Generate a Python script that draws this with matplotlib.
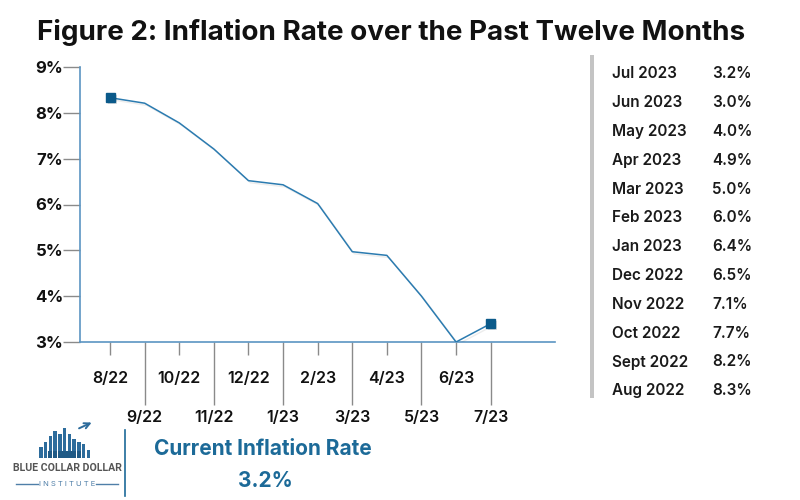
import matplotlib.pyplot as plt
import matplotlib.patheffects as pe
from matplotlib.patches import Rectangle
from matplotlib.lines import Line2D

plt.rcParams['font.family'] = ['Inter', 'DejaVu Sans']

# data
months = ['8/22', '9/22', '10/22', '11/22', '12/22', '1/23',
          '2/23', '3/23', '4/23', '5/23', '6/23', '7/23']
rates = [8.33, 8.21, 7.78, 7.21, 6.52, 6.43, 6.02, 4.97, 4.89, 4.0, 3.0, 3.4]
ytick_vals = [3, 4, 5, 6, 7, 8, 9]
ytick_labels = ['3%', '4%', '5%', '6%', '7%', '8%', '9%']

table_months = ['Jul 2023', 'Jun 2023', 'May 2023', 'Apr 2023', 'Mar 2023', 'Feb 2023',
                'Jan 2023', 'Dec 2022', 'Nov 2022', 'Oct 2022', 'Sept 2022', 'Aug 2022']
table_rates = ['3.2%', '3.0%', '4.0%', '4.9%', '5.0%', '6.0%',
               '6.4%', '6.5%', '7.1%', '7.7%', '8.2%', '8.3%']
current_rate = '3.2%'

blue = '#1c6a98'
line_blue = '#2b7bb0'
W, H = 800, 500

fig = plt.figure(figsize=(8, 5), dpi=100)
fig.patch.set_facecolor('white')

# axes in pixel coords: left 80, right 555, top 67, bottom 342
ax = fig.add_axes([80 / W, 1 - 342 / H, (555 - 80) / W, (342 - 67) / H])
x = list(range(len(months)))
ax.plot(x, rates, color=line_blue, lw=1.1, zorder=3,
        path_effects=[pe.SimpleLineShadow(offset=(1.5, -1.5), alpha=0.07), pe.Normal()])
ax.plot([x[0], x[-1]], [rates[0], rates[-1]], ls='none', marker='s', ms=6.5,
        color='#0b5a8a', zorder=4,
        path_effects=[pe.SimplePatchShadow(offset=(1.5, -1.5), alpha=0.15), pe.Normal()])

ax.set_xlim(-0.87, 12.86)
ax.set_ylim(3, 9)
for s in ['top', 'right']:
    ax.spines[s].set_visible(False)
ax.spines['left'].set_color('#5b95c2')
ax.spines['bottom'].set_color('#5b95c2')
ax.spines['left'].set_linewidth(1.2)
ax.spines['bottom'].set_linewidth(1.2)

ax.set_yticks(ytick_vals)
ax.set_yticklabels(ytick_labels, fontsize=12, fontweight='bold', color='#111111')
ax.tick_params(axis='y', length=12, width=1, color='#8a8a8a', pad=0)

ax.set_xticks(x[0::2])
ax.set_xticklabels(months[0::2], fontsize=11.5, fontweight='semibold', color='#111111')
ax.set_xticks(x[1::2], minor=True)
ax.set_xticklabels(months[1::2], minor=True, fontsize=11.5, fontweight='semibold', color='#111111')
ax.tick_params(axis='x', which='major', length=9, width=1, color='#8a8a8a', pad=12)
ax.tick_params(axis='x', which='minor', length=45, width=1, color='#8a8a8a', pad=4)

# title
fig.text(391 / W, 1 - 32 / H, 'Figure 2: Inflation Rate over the Past Twelve Months',
         ha='center', va='center', fontsize=20, fontweight='bold', color='#111111')

# right-side table
fig.add_artist(Rectangle((590 / W, 1 - 398 / H), 4 / W, (398 - 55) / H,
                         transform=fig.transFigure, color='#c4c4c4', lw=0))
for i, (m, r) in enumerate(zip(table_months, table_rates)):
    yy = 1 - (74 + i * 28.8) / H
    fig.text(612 / W, yy, m, ha='left', va='center', fontsize=11,
             fontweight='semibold', color='#1a1a1a')
    fig.text(712 / W, yy, r, ha='left', va='center', fontsize=11,
             fontweight='semibold', color='#1a1a1a')

# logo (simplified)
logo = fig.add_axes([36 / W, 1 - 458 / H, 62 / W, 38 / H])
logo_h = [4, 6, 8, 10, 9, 11, 9, 7, 6, 5, 3]
logo.bar(range(len(logo_h)), logo_h, width=0.75, color='#2d6c9c')
logo.bar(range(2, 9), [2.5] * 7, width=0.9, color='#1f5a86')
logo.annotate('', xy=(11.2, 13.5), xytext=(7.5, 10.5),
              arrowprops=dict(arrowstyle='->', color='#2d6c9c', lw=1.4))
logo.set_xlim(-1, 12)
logo.set_ylim(0, 14)
logo.axis('off')
fig.text(67 / W, 1 - 468 / H, 'BLUE COLLAR DOLLAR', ha='center', va='center',
         fontsize=7.6, fontweight='bold', color='#555555', family=['Roboto', 'DejaVu Sans'])
fig.text(67 / W, 1 - 484 / H, 'I N S T I T U T E', ha='center', va='center',
         fontsize=5.5, color='#4f7fa8')
fig.add_artist(Line2D([16 / W, 38 / W], [1 - 484 / H] * 2, color='#4f7fa8', lw=1))
fig.add_artist(Line2D([96 / W, 118 / W], [1 - 484 / H] * 2, color='#4f7fa8', lw=1))

# separator and current rate
fig.add_artist(Line2D([125 / W, 125 / W], [1 - 430 / H, 1 - 496 / H], color=blue, lw=1.2))
fig.text(263 / W, 1 - 449 / H, 'Current Inflation Rate', ha='center', va='center',
         fontsize=15, fontweight='bold', color=blue)
fig.text(265 / W, 1 - 481 / H, current_rate, ha='center', va='center',
         fontsize=15, fontweight='bold', color=blue)

fig.savefig('out.png', dpi=100, facecolor='white')
